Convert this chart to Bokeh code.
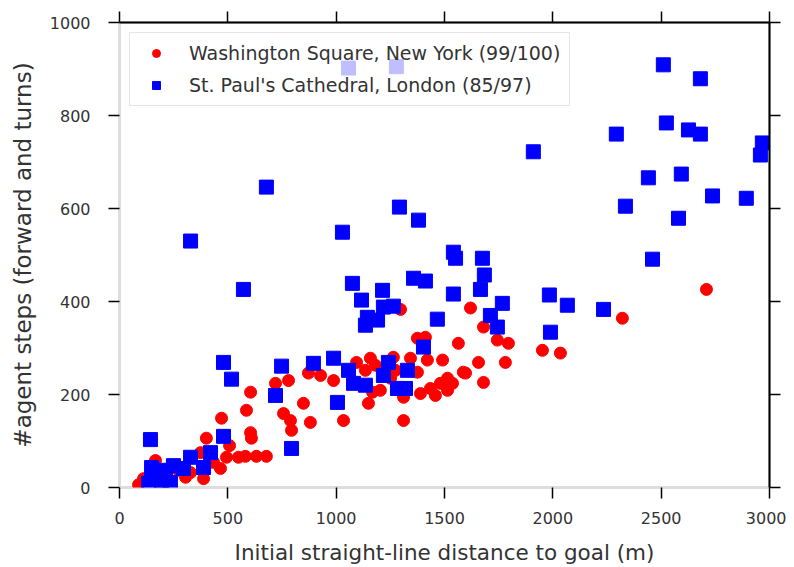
from bokeh.plotting import figure
from bokeh.models import LinearAxis, FixedTicker, Legend, LegendItem, Range1d, CustomLabelingPolicy
from bokeh.embed import file_html
from bokeh.resources import INLINE

# Washington Square, New York (red circles)
ny_x = [88, 111, 166, 272, 305, 388, 466, 374, 401, 494, 549, 581, 678, 471, 605, 609,
        586, 605, 720, 780, 757, 789, 794, 872, 988, 849, 881, 1034, 1158, 1135, 1168,
        1149, 1204, 1264, 1343, 1375, 1251, 1311, 1389, 1435, 1481, 1514, 1311, 1491,
        1564, 1587, 1514, 1297, 1412, 1375, 1620, 1680, 1744, 1795, 1657, 1781, 1597,
        1680, 1952, 2035, 2321, 2709, 189, 328, 434, 508, 632, 928, 1094, 1181, 1274,
        1421, 1537, 1458]
ny_y = [6, 19, 58, 37, 22, 19, 41, 75, 106, 65, 65, 67, 67, 149, 118, 106,
        166, 205, 224, 230, 159, 144, 123, 246, 230, 181, 140, 144, 278, 252, 205,
        181, 209, 280, 278, 248, 235, 194, 202, 213, 224, 235, 144, 274,
        310, 248, 209, 383, 323, 321, 386, 345, 317, 310, 269, 269, 246,
        226, 295, 289, 364, 426, 26, 32, 54, 90, 67, 241, 269, 263, 252,
        274, 224, 198]

# St. Paul's Cathedral, London (blue squares)
ld_x = [143, 148, 212, 249, 148, 194, 235, 134, 328, 388, 420, 480, 480, 517, 328, 572,
        678, 720, 748, 794, 895, 988, 1006, 1057, 1080, 1135, 1029, 1075, 1117, 1144,
        1191, 1135, 1214, 1218, 1264, 1241, 1218, 1329, 1283, 1320, 1292, 1380, 1357,
        1412, 1467, 1403, 1541, 1551, 1541, 1675, 1684, 1666, 1767, 1712, 1744, 1984,
        2067, 2234, 1989, 1910, 2460, 2335, 2580, 2441, 2593, 2737, 2893, 2293, 2524,
        2626, 2681, 2967, 2958, 2510, 2681, 1057, 1278, 295]
ld_y = [103, 43, 37, 47, 19, 15, 11, 9, 65, 43, 75, 110, 269, 233, 530, 426,
        646, 198, 261, 84, 267, 278, 183, 252, 224, 220, 549, 439, 403, 366,
        360, 349, 424, 388, 390, 269, 241, 252, 213, 213, 603, 575, 450,
        444, 362, 302, 506, 493, 416, 493, 457, 426, 396, 370, 345, 414,
        392, 383, 334, 722, 491, 605, 579, 666, 674, 627, 622, 760, 784,
        769, 760, 741, 715, 909, 879, 902, 905, 41]

x_ticks = [0, 500, 1000, 1500, 2000, 2500, 3000]
y_ticks = [0, 200, 400, 600, 800, 1000]

label_ny = "Washington Square, New York (99/100)"
label_ld = "St. Paul's Cathedral, London (85/97)"

FONT = "DejaVu Sans"

p = figure(width=786, height=567, output_backend="svg", toolbar_location=None,
           x_range=Range1d(0, 3000), y_range=Range1d(0, 1000),
           min_border_left=119, min_border_right=17, min_border_top=22, min_border_bottom=80,
           x_axis_location=None, y_axis_location=None)
p.grid.visible = False
p.outline_line_color = "#dddddd"
p.outline_line_width = 3
p.background_fill_color = "white"
p.border_fill_color = "white"

r_ny = p.scatter(ny_x, ny_y, marker="circle", size=12, fill_color="#ff0000", line_color="#ff0000")
r_ld = p.scatter(ld_x, ld_y, marker="square", size=14, fill_color="#0000ff", line_color="#0000ff")

def styled_axis(ticks, labels=True):
    ax = LinearAxis(ticker=FixedTicker(ticks=ticks))
    ax.minor_tick_line_color = None
    ax.major_tick_out = 11
    ax.major_tick_in = 0
    ax.major_tick_line_color = "black"
    ax.major_tick_line_width = 1.5
    ax.major_label_text_font = FONT
    ax.major_label_text_color = "#333333"
    if labels:
        ax.major_label_text_font_size = "16px"
        ax.axis_line_color = None
        ax.axis_label_text_font = FONT
        ax.axis_label_text_font_style = "normal"
        ax.axis_label_text_color = "#333333"
    else:
        ax.axis_line_color = "black"
        ax.axis_line_width = 2
        ax.major_label_text_font_size = "1px"
        ax.major_label_standoff = 0
        ax.major_label_policy = CustomLabelingPolicy(code="return [];")
    return ax

xb = styled_axis(x_ticks)
xb.axis_label = "Initial straight-line distance to goal (m)"
xb.axis_label_text_font_size = "21.5px"
xb.major_label_standoff = 13
xb.axis_label_standoff = 13
p.add_layout(xb, "below")

yl = styled_axis(y_ticks)
yl.axis_label = "#agent steps (forward and turns)"
yl.axis_label_text_font_size = "23px"
yl.major_label_standoff = 18
yl.axis_label_standoff = 11
p.add_layout(yl, "left")

xt = styled_axis(x_ticks, labels=False)
p.add_layout(xt, "above")
yr = styled_axis(y_ticks, labels=False)
p.add_layout(yr, "right")

legend = Legend(items=[LegendItem(label=label_ny, renderers=[r_ny]),
                       LegendItem(label=label_ld, renderers=[r_ld])],
                location="top_left")
legend.label_text_font = FONT
legend.label_text_font_size = "19px"
legend.label_text_color = "#333333"
legend.border_line_color = "#cccccc"
legend.border_line_width = 1.5
legend.background_fill_alpha = 0.75
legend.glyph_width = 34
legend.glyph_height = 20
legend.label_standoff = 16
legend.spacing = 10
legend.padding = 9
legend.margin = 10
p.add_layout(legend)

open("out.html", "w").write(file_html(p, INLINE))
